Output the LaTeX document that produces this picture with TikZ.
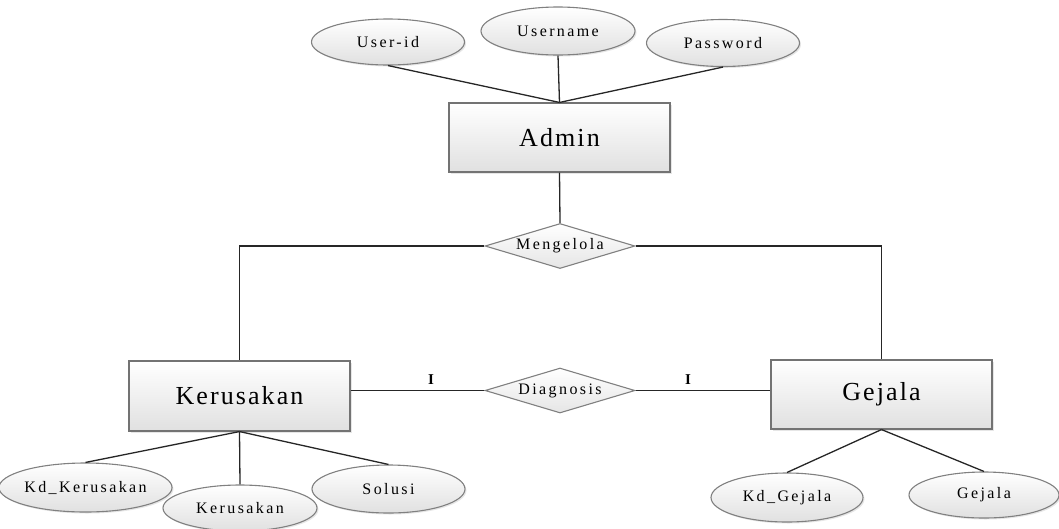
\documentclass[tikz,border=0pt]{standalone}
\usepackage{fontspec}
\setmainfont{Liberation Serif}
\newfontfamily\smallspaced[LetterSpace=15]{Liberation Serif}
\newfontfamily\bigspaced[LetterSpace=8]{Liberation Serif}
\usetikzlibrary{shapes.geometric,shadows}
\tikzset{
  ent/.style={rectangle, draw=black!55, line width=1.1pt, top color=white, bottom color=black!12,
    minimum width=221pt, minimum height=69pt, inner sep=0pt,
    drop shadow={opacity=0.2, shadow xshift=1.5pt, shadow yshift=-1.5pt},
    font=\bigspaced\fontsize{26}{28}\selectfont},
  attr/.style={ellipse, draw=black!50, line width=1.1pt, top color=white, bottom color=black!12,
    inner sep=0pt, drop shadow={opacity=0.2, shadow xshift=1.5pt, shadow yshift=-1.5pt},
    font=\smallspaced\fontsize{16}{18}\selectfont},
  rel/.style={diamond, draw=black!50, line width=1.1pt, top color=white, bottom color=black!10,
    inner sep=0pt, aspect=3.3, minimum width=150pt, minimum height=45pt,
    font=\smallspaced\fontsize{16}{18}\selectfont},
  conn/.style={draw=black!85, line width=1.3pt},
  card/.style={font=\bfseries\fontsize{15}{17}\selectfont, inner sep=0pt}
}
\begin{document}
\begin{tikzpicture}[x=1pt,y=-1pt]
\useasboundingbox (0,0) rectangle (1059,528);
% attributes of Admin
\node[attr, minimum width=153pt, minimum height=46pt] (uid) at (388,42) {User-id};
\node[attr, minimum width=154pt, minimum height=48pt] (uname) at (558,31) {Username};
\node[attr, minimum width=153pt, minimum height=47pt] (pass) at (723,43) {Password};
% entities
\node[ent] (admin) at (559.5,137.5) {Admin};
\node[ent, minimum height=70pt] (kerus) at (239.5,396) {Kerusakan};
\node[ent] (gej) at (881.5,394.5) {Gejala};
% relationships
\node[rel] (meng) at (560,246) {Mengelola};
\node[rel] (diag) at (560,390.5) {Diagnosis};
% attributes of Kerusakan
\node[attr, minimum width=155pt, minimum height=49pt] (kdk) at (85.5,487.5) {Kd\_Kerusakan};
\node[attr, minimum width=154pt, minimum height=46pt] (kers) at (240,508) {Kerusakan};
\node[attr, minimum width=153pt, minimum height=48pt] (sol) at (388.5,489) {Solusi};
% attributes of Gejala
\node[attr, minimum width=152pt, minimum height=49pt] (kdg) at (787,497.5) {Kd\_Gejala};
\node[attr, minimum width=150pt, minimum height=46pt] (gejs) at (984,495) {Gejala};
% connectors
\draw[conn] (uid.south) -- (admin.north);
\draw[conn] (uname.south) -- (admin.north);
\draw[conn] (pass.south) -- (admin.north);
\draw[conn] (admin.south) -- (meng.north);
\draw[conn] (meng.west) -| (kerus.north);
\draw[conn] (meng.east) -| (gej.north);
\draw[conn] (kerus.east |- diag.west) -- (diag.west);
\draw[conn] (diag.east) -- (gej.west |- diag.east);
\draw[conn] (kerus.south) -- (kdk.north);
\draw[conn] (kerus.south) -- (kers.north);
\draw[conn] (kerus.south) -- (sol.north);
\draw[conn] (gej.south) -- (kdg.north);
\draw[conn] (gej.south) -- (gejs.north);
% cardinalities
\node[card] (c1) at (431,380) {I};
\node[card] (c2) at (688,380) {I};
\end{tikzpicture}
\end{document}
